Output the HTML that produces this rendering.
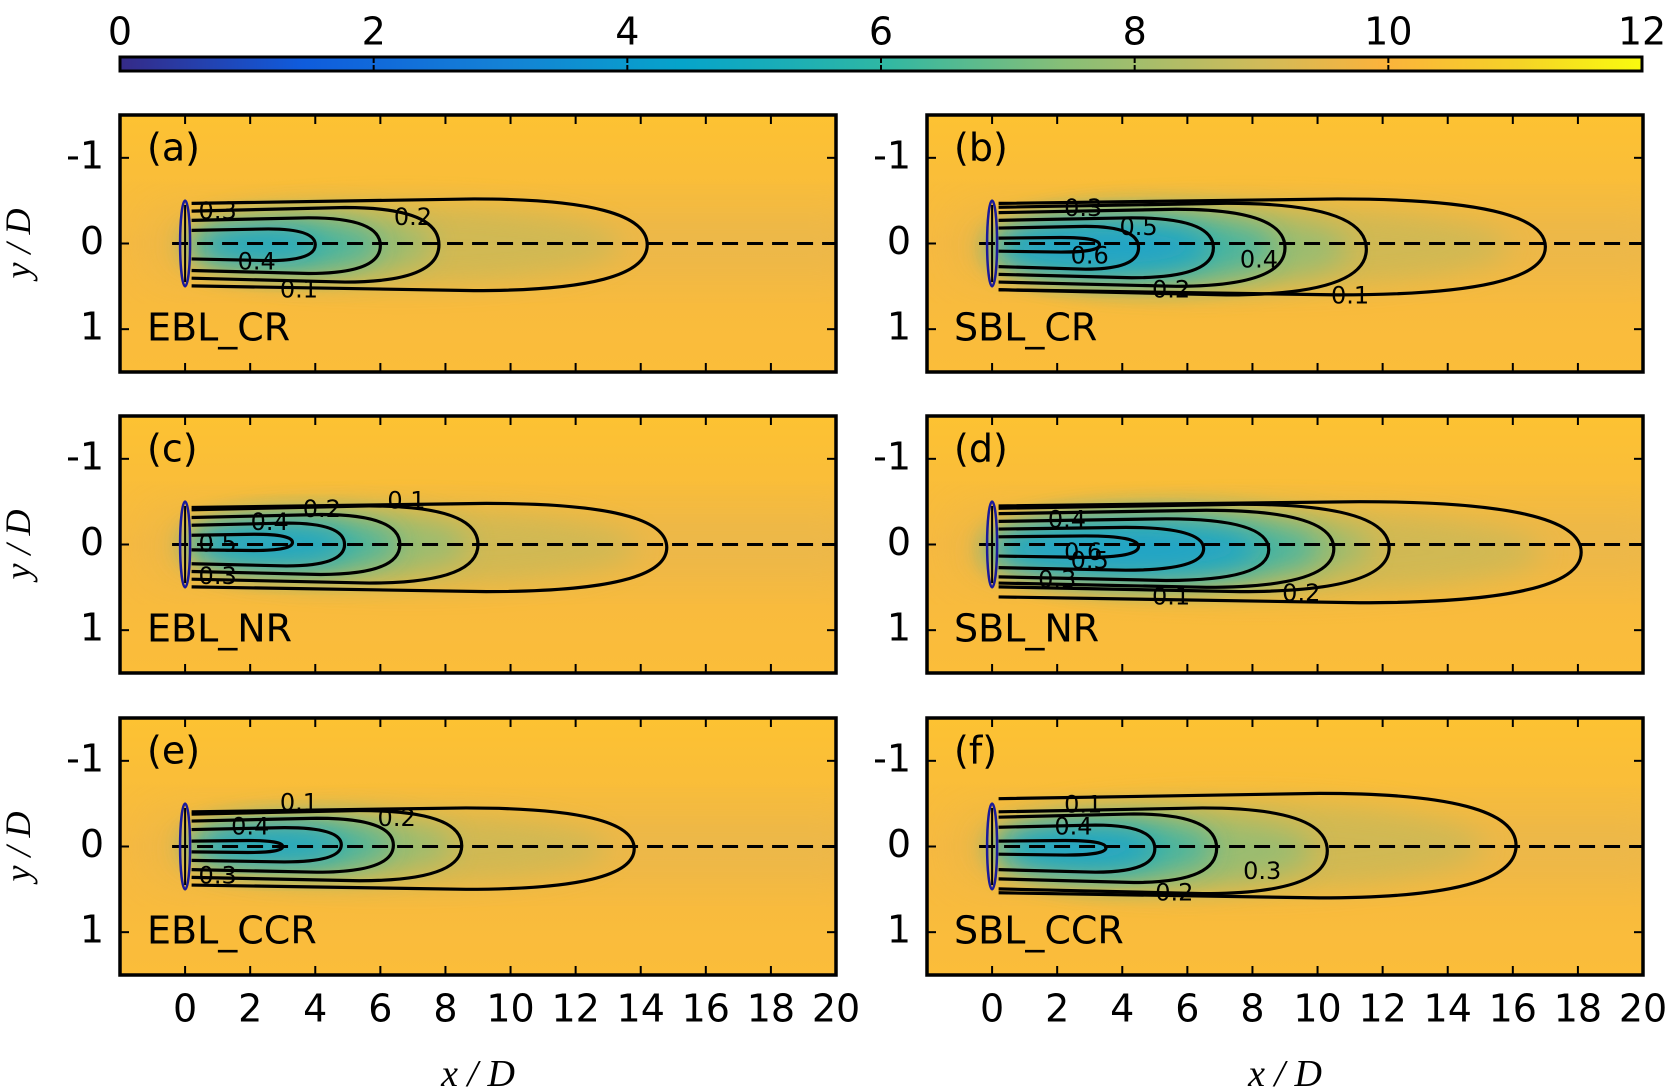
<!DOCTYPE html>
<html><head><meta charset="utf-8"><style>
body{margin:0;background:#fff}
svg{display:block;font-family:"DejaVu Sans","Liberation Sans",sans-serif}
</style></head><body>
<svg id="fig" width="1665" height="1092" viewBox="0 0 1665 1092" xmlns="http://www.w3.org/2000/svg">
<defs>
<linearGradient id="cbar" x1="0" x2="1" y1="0" y2="0">
<stop offset="0" stop-color="#352a87"/><stop offset="0.12" stop-color="#0f5cdd"/><stop offset="0.25" stop-color="#1481d6"/>
<stop offset="0.37" stop-color="#06a4ca"/><stop offset="0.5" stop-color="#2eb7a4"/><stop offset="0.62" stop-color="#87bf77"/>
<stop offset="0.75" stop-color="#d1bb59"/><stop offset="0.83" stop-color="#fbb33c"/><stop offset="0.92" stop-color="#f5d327"/><stop offset="1" stop-color="#f9fb0e"/>
</linearGradient>
<linearGradient id="bg" x1="0" x2="0" y1="0" y2="1">
<stop offset="0" stop-color="#fdc232"/><stop offset="0.5" stop-color="#f6b940"/><stop offset="1" stop-color="#fbbd3a"/>
</linearGradient>
<filter id="blur" x="-30%" y="-50%" width="160%" height="200%"><feGaussianBlur stdDeviation="14"/></filter>
<filter id="blur2" x="-30%" y="-50%" width="160%" height="200%"><feGaussianBlur stdDeviation="25"/></filter>
</defs>
</svg>
<script>
const NS="http://www.w3.org/2000/svg";
const svg=document.getElementById('fig');
// ---- data ----
const panelNames=["EBL_CR","SBL_CR","EBL_NR","SBL_NR","EBL_CCR","SBL_CCR"];
const panelLetters=["(a)","(b)","(c)","(d)","(e)","(f)"];
const xTicks=[0,2,4,6,8,10,12,14,16,18,20];
const yTicks=[-1,0,1];
const cbTicks=[0,2,4,6,8,10,12];
const cEnds=[[14.2,7.8,6.0,4.0],[17,11.5,9.0,6.8,4.5,3.3],[14.8,9,6.6,4.9,3.3],[18.1,12.2,10.5,8.5,6.5,4.5],[13.8,8.5,6.4,4.8,3],[16.1,10.3,6.9,5.0,3.5]];
const cTops=[[-0.52,-0.42,-0.3,-0.17],[-0.52,-0.47,-0.4,-0.3,-0.2,-0.07],[-0.48,-0.45,-0.35,-0.25,-0.12],[-0.5,-0.47,-0.4,-0.3,-0.2,-0.1],[-0.45,-0.42,-0.33,-0.22,-0.07],[-0.62,-0.45,-0.38,-0.25,-0.07]];
const cBots=[[0.55,0.45,0.35,0.2],[0.6,0.6,0.5,0.4,0.3,0.1],[0.55,0.45,0.35,0.25,0.07],[0.68,0.55,0.5,0.42,0.3,0.15],[0.5,0.4,0.3,0.18,0.07],[0.6,0.55,0.42,0.3,0.1]];
const labTexts=[["0.3","0.2","0.4","0.1"],["0.3","0.5","0.6","0.2","0.4","0.1"],["0.1","0.2","0.4","0.5","0.3"],["0.4","0.6","0.5","0.3","0.1","0.2"],["0.1","0.2","0.4","0.3"],["0.1","0.4","0.3","0.2"]];
const labX=[[1,7,2.2,3.5],[2.8,4.5,3,5.5,8.2,11],[6.8,4.2,2.6,1,1],[2.3,2.8,3,2,5.5,9.5],[3.5,6.5,2,1],[2.8,2.5,8.3,5.6]];
const labY=[[-0.37,-0.3,0.22,0.55],[-0.4,-0.18,0.15,0.55,0.2,0.62],[-0.5,-0.4,-0.25,0,0.38],[-0.28,0.1,0.2,0.42,0.62,0.58],[-0.5,-0.32,-0.22,0.35],[-0.48,-0.22,0.3,0.55]];
// ---- layout ----
const PL=[120,927], PT=[115,416,718], W=716, H=257;
const X0=-2,X1=20,Y0=-1.5,Y1=1.5;
function el(t,a,p){const e=document.createElementNS(NS,t);for(const k in a)e.setAttribute(k,a[k]);(p||svg).appendChild(e);return e;}
// colorbar
const cb=el('g',{});


el('rect',{x:120,y:57,width:1522,height:14,fill:'url(#cbar)',stroke:'#000','stroke-width':3},cb);
cbTicks.forEach(v=>{const x=120+v/12*1522;
 el('line',{x1:x,x2:x,y1:57,y2:63,stroke:'#000','stroke-width':2},cb);
 el('line',{x1:x,x2:x,y1:65,y2:71,stroke:'#000','stroke-width':2},cb);
 const t=el('text',{x:x,y:34,'font-size':38,'text-anchor':'middle','dominant-baseline':'middle'},cb);t.textContent=v;
 
 });
for(let i=0;i<6;i++){
 const col=i%2,row=Math.floor(i/2),L=PL[col],T=PT[row];
 const sx=v=>L+(v-X0)/(X1-X0)*W, sy=v=>T+(v-Y0)/(Y1-Y0)*H;
 const g=el('g',{});
 
 
 const cid='clip'+i;const cp=el('clipPath',{id:cid},g);el('rect',{x:L,y:T,width:W,height:H},cp);
 const f=el('g',{'clip-path':'url(#'+cid+')'},g);
 el('rect',{x:L,y:T,width:W,height:H,fill:'url(#bg)'},f);
 el('rect',{x:sx(-1),y:sy(-0.35),width:W,height:sy(0.35)-sy(-0.35),fill:'#e2b652',opacity:0.6,filter:'url(#blur2)'},f);
 const E=cEnds[i],Tp=cTops[i],Bt=cBots[i],n=E.length;
 // wake colouring
 const fills=['#c9b956','#8cbd78','#34b2ac','#12a0d0'];
 for(let k=0;k<Math.min(n,4);k++){const kk=Math.min(k,n-1);
  el('ellipse',{cx:sx(0.6+E[kk]*0.42),cy:sy((Tp[kk]+Bt[kk])/2),rx:(sx(E[kk])-sx(0))*0.48,ry:(sy(Bt[kk])-sy(Tp[kk]))*0.42,fill:fills[k],opacity:0.8,filter:'url(#blur)'},f);}
 // contours
 for(let k=0;k<n;k++){
  const xs=0.2,xe=E[k],a=xs+(xe-xs)*0.62,tp=Tp[k],bt=Bt[k],mid=(tp+bt)/2;
  const d=`M${sx(xs)},${sy(tp*0.9)} L${sx(a)},${sy(tp)} Q${sx(xe)},${sy(tp)} ${sx(xe)},${sy(mid)} Q${sx(xe)},${sy(bt)} ${sx(a)},${sy(bt)} L${sx(xs)},${sy(bt*0.9)}`;
  const p=el('path',{d:d,fill:'none',stroke:'#000','stroke-width':3.2},f);
  
  }
 labTexts[i].forEach((s,k)=>{const t=el('text',{x:sx(labX[i][k]),y:sy(labY[i][k]),'font-size':24,'text-anchor':'middle','dominant-baseline':'middle'},f);t.textContent=s;
  
  });
 // centerline & turbine
 el('line',{x1:sx(-0.4),x2:sx(20),y1:sy(0),y2:sy(0),stroke:'#000','stroke-width':3,'stroke-dasharray':'16,9'},f);
 el('ellipse',{cx:sx(0),cy:sy(0),rx:5,ry:(sy(0.5)-sy(-0.5))/2,fill:'none',stroke:'#1a1a9a','stroke-width':2.5},f);
 el('line',{x1:sx(0),x2:sx(0),y1:sy(-0.45),y2:sy(0.45),stroke:'#000','stroke-width':2},f);
 // frame & ticks
 el('rect',{x:L,y:T,width:W,height:H,fill:'none',stroke:'#000','stroke-width':3.5},g);
 xTicks.forEach(v=>{el('line',{x1:sx(v),x2:sx(v),y1:T,y2:T+9,stroke:'#000','stroke-width':2},g);
  el('line',{x1:sx(v),x2:sx(v),y1:T+H-9,y2:T+H,stroke:'#000','stroke-width':2},g);
  if(row===2){const t=el('text',{x:sx(v),y:T+H+36,'font-size':38,'text-anchor':'middle','dominant-baseline':'middle'},g);t.textContent=v;
   
   }});
 yTicks.forEach(v=>{el('line',{x1:L,x2:L+9,y1:sy(v),y2:sy(v),stroke:'#000','stroke-width':2},g);
  el('line',{x1:L+W-9,x2:L+W,y1:sy(v),y2:sy(v),stroke:'#000','stroke-width':2},g);
  const t=el('text',{x:L-16,y:sy(v),'font-size':38,'text-anchor':'end','dominant-baseline':'middle'},g);t.textContent=v;
  
  });
 const lt=el('text',{x:L+27,y:T+35,'font-size':38,'dominant-baseline':'middle'},g);lt.textContent=panelLetters[i];
 
 
 const nt=el('text',{x:L+27,y:T+H-42,'font-size':38,'dominant-baseline':'middle'},g);nt.textContent=panelNames[i];
 
 
 if(col===0){const yl=el('text',{x:0,y:0,'font-size':36,'font-style':'italic','font-family':'Liberation Serif,serif','text-anchor':'middle',transform:`translate(30,${T+H/2}) rotate(-90)`},g);yl.textContent='y / D';
  
  }
 if(row===2){const xl=el('text',{x:L+W/2,y:1086,'font-size':38,'font-style':'italic','font-family':'Liberation Serif,serif','text-anchor':'middle'},g);xl.textContent='x / D';
  
  }
}
</script>
</body></html>
